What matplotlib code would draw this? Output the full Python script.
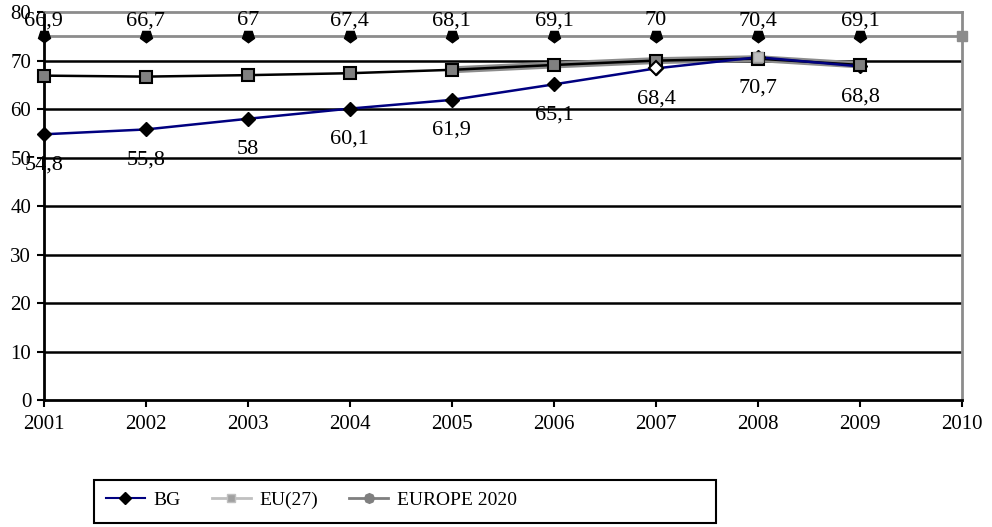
import numpy as np
import matplotlib
matplotlib.use("Agg")
import matplotlib.pyplot as plt
from matplotlib.patches import Rectangle

plt.rcParams['font.family'] = ['Liberation Serif', 'DejaVu Serif']

# data
years = [2001, 2002, 2003, 2004, 2005, 2006, 2007, 2008, 2009]
bg = [54.8, 55.8, 58, 60.1, 61.9, 65.1, 68.4, 70.7, 68.8]
eu27 = [66.9, 66.7, 67, 67.4, 68.1, 69.1, 70, 70.4, 69.1]
target_years = [2001, 2002, 2003, 2004, 2005, 2006, 2007, 2008, 2009, 2010]
europe2020 = [75] * 10

def fmt(v):
    return f"{v:g}".replace(".", ",")

fig = plt.figure(figsize=(9.92, 5.27), dpi=100)
ax = fig.add_axes([0.044, 0.241, 0.926, 0.736])

ax.set_xlim(2001, 2010)
ax.set_ylim(0, 80)
ax.set_yticks(range(0, 81, 10))
ax.set_xticks(target_years)
ax.tick_params(labelsize=15, direction='out', length=5, width=1.5, color='black', pad=4)
ax.tick_params(axis='x', pad=6)

# gridlines
for g in range(10, 80, 10):
    ax.axhline(g, color='black', lw=1.8, zorder=1)

for s in ['left', 'bottom']:
    ax.spines[s].set_color('black')
    ax.spines[s].set_linewidth(2)
for s in ['top', 'right']:
    ax.spines[s].set_color('#8c8c8c')
    ax.spines[s].set_linewidth(2)

# EUROPE 2020 target line
ax.plot(target_years, europe2020, color='#8c8c8c', lw=2, zorder=2)
ax.plot(target_years[:-1], europe2020[:-1], ls='none', marker=(5, 0, 180),
        ms=9, color='black', zorder=5, clip_on=False)
ax.plot(target_years[-1:], europe2020[-1:], ls='none', marker='s', ms=7,
        color='#8c8c8c', zorder=5, clip_on=False)

# EU(27)
ax.plot(years[4:], eu27[4:], color='#8c8c8c', lw=5, zorder=2)
ax.plot(years, eu27, color='black', lw=1.8, zorder=3)
ax.plot(years, eu27, ls='none', marker='s', ms=8, mfc='#808080', mec='black',
        mew=1.5, zorder=6, clip_on=False)

# BG
ax.plot(years, bg, color='#000080', lw=1.8, zorder=4, marker='D', ms=7,
        mfc='black', mec='black', clip_on=False)
ax.plot(years[6:7], bg[6:7], ls='none', marker='D', ms=7, mfc='white',
        mec='black', mew=1.5, zorder=7)
ax.plot(years[7:8], bg[7:8], ls='none', marker='s', ms=7, mfc='#c0c0c0',
        mec='#a0a0a0', zorder=7)

# labels
for x, v in zip(years, eu27):
    ax.annotate(fmt(v), (x, 78.2), ha='center', va='center', fontsize=16, zorder=8)
for x, v in zip(years, bg):
    ax.annotate(fmt(v), (x, v), xytext=(0, -22), textcoords='offset points',
                ha='center', va='center', fontsize=16, zorder=8)

# legend
handles = [
    plt.Line2D([], [], color='#000080', lw=1.5, marker='D', ms=6, mfc='black', mec='black'),
    plt.Line2D([], [], color='#c0c0c0', lw=2, marker='s', ms=6, mfc='#a0a0a0', mec='#c0c0c0'),
    plt.Line2D([], [], color='#7f7f7f', lw=2, marker=(8, 0, 0), ms=7, mfc='#7f7f7f', mec='#7f7f7f'),
]
leg = fig.legend(handles, ['BG', 'EU(27)', 'EUROPE 2020'], loc='center left',
                 bbox_to_anchor=(0.089, 0.051), ncol=3, fontsize=14,
                 frameon=False, handlelength=2.0, handletextpad=0.45,
                 columnspacing=1.6)
fig.patches.append(Rectangle((0.0948, 0.0076), 0.627, 0.0814, transform=fig.transFigure,
                             fill=False, edgecolor='black', lw=1.5))

fig.savefig('out.png', dpi=100)
